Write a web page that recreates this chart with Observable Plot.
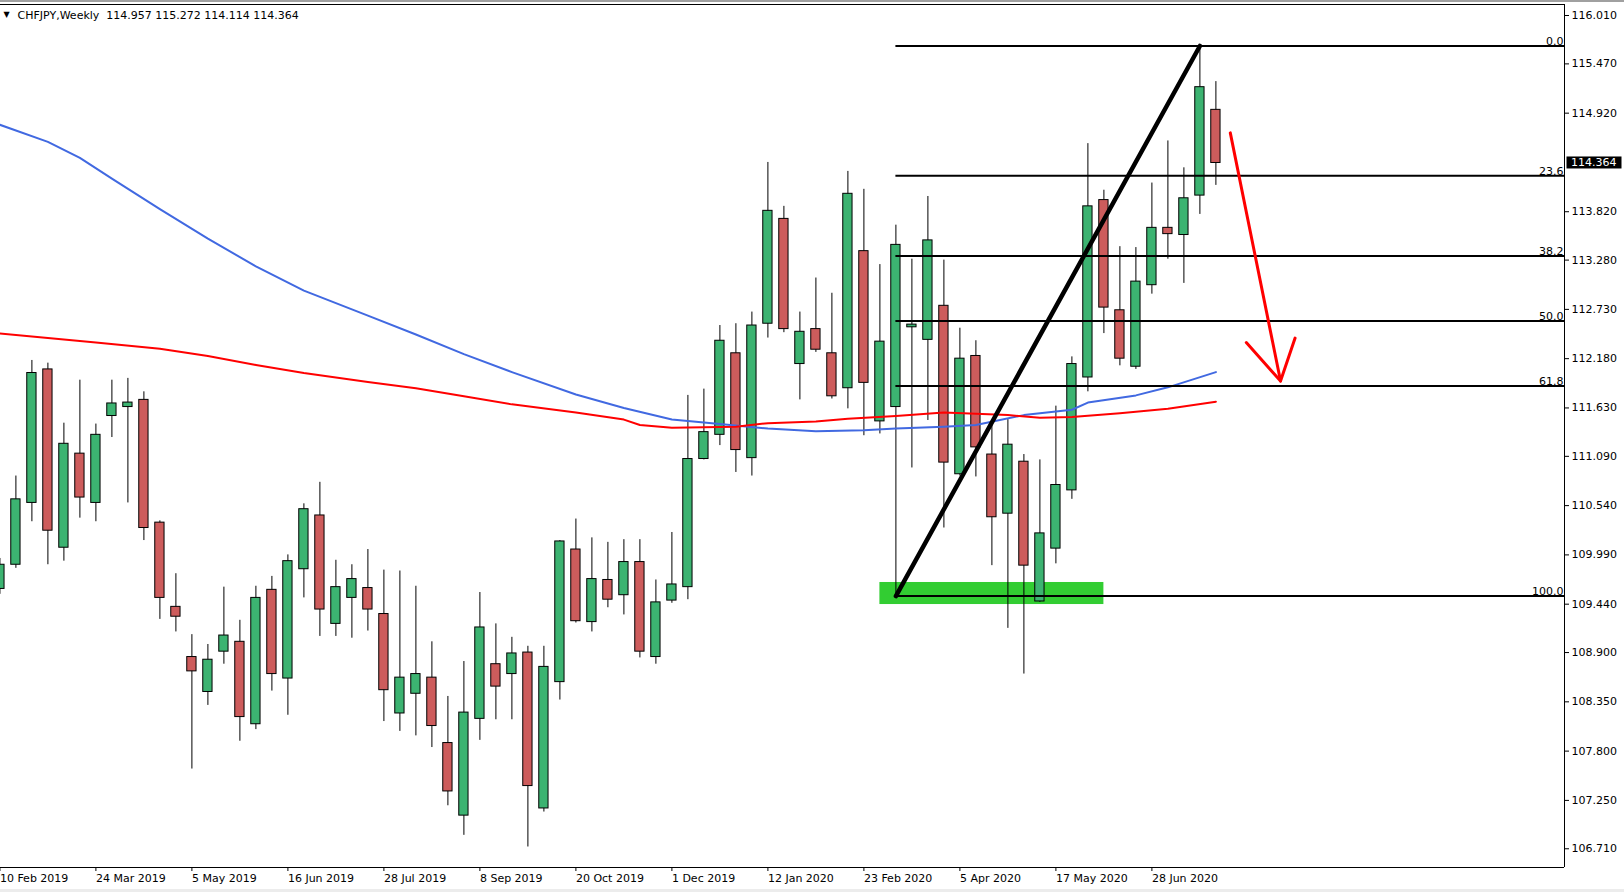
<!DOCTYPE html>
<html><head><meta charset="utf-8">
<script src="https://cdn.jsdelivr.net/npm/d3@7"></script>
<script src="https://cdn.jsdelivr.net/npm/@observablehq/plot@0.6"></script>
<style>
html,body{margin:0;padding:0;background:#fff;}
#chart svg{display:block;}
</style></head><body><div id="chart"></div>
<script>
// ---------------- data ----------------
const symbol = "CHFJPY";
const timeframe = "Weekly";
const firstWeek = "10 Feb 2019";

const open  = [109.61,109.88,110.57,112.06,110.07,111.12,110.57,111.54,111.64,111.72,
               110.35,109.41,108.85,108.46,108.91,109.02,108.10,109.60,108.61,109.83,
               110.43,109.22,109.51,109.62,109.33,108.22,108.44,108.62,107.89,107.08,
               108.16,108.77,108.66,108.90,107.16,108.57,110.05,109.24,109.71,109.54,
               109.91,108.85,109.48,109.63,111.06,111.33,112.24,111.07,112.57,113.74,
               112.12,112.51,112.24,111.85,113.38,111.48,111.64,112.53,112.39,112.77,
               110.89,112.21,111.11,110.45,111.03,109.47,110.06,110.71,111.97,113.95,
               112.72,112.09,113.00,113.64,113.56,114.00,114.957];
const high  = [109.95,110.87,112.16,112.13,111.46,111.94,111.45,111.94,111.96,111.81,
               110.37,109.78,109.10,108.99,109.63,109.26,109.64,109.75,109.99,110.56,
               110.80,109.93,109.88,110.05,109.82,109.81,109.64,109.02,108.41,108.80,
               109.57,109.22,109.07,108.97,108.97,110.15,110.39,110.18,110.13,110.16,
               110.16,109.71,110.24,111.77,111.84,112.55,112.57,112.70,114.37,113.88,
               112.70,113.08,112.91,114.27,114.07,113.23,113.67,113.29,113.99,113.28,
               112.52,112.38,111.48,111.50,111.11,111.05,111.65,112.20,114.58,114.06,
               113.43,113.42,114.14,114.61,114.31,115.67,115.272];
const low   = [109.55,109.84,110.36,109.88,109.92,110.40,110.36,111.30,110.57,110.15,
               109.27,109.13,107.60,108.31,108.77,107.91,108.04,108.47,108.20,109.51,
               109.08,109.08,109.06,109.14,108.13,108.02,107.97,107.84,107.19,106.86,
               107.92,108.15,108.15,106.73,107.12,108.37,109.23,109.13,109.40,109.32,
               108.84,108.77,109.45,109.49,111.05,111.21,110.91,110.87,112.41,112.47,
               111.72,112.25,111.73,111.62,111.32,111.34,109.53,110.96,111.49,110.29,
               110.87,110.86,109.87,109.17,108.66,109.46,109.89,110.61,111.81,112.46,
               112.10,112.06,112.90,113.29,113.02,113.79,114.114];
const close = [109.88,110.61,112.02,110.26,111.23,110.63,111.33,111.68,111.69,110.29,
               109.51,109.30,108.69,108.82,109.09,108.18,109.51,108.66,109.92,110.50,
               109.38,109.63,109.72,109.38,108.48,108.62,108.66,108.08,107.35,108.23,
               109.18,108.52,108.89,107.41,108.74,110.14,109.25,109.72,109.49,109.91,
               108.91,109.46,109.66,111.06,111.36,112.38,111.16,112.55,113.83,112.51,
               112.48,112.28,111.76,114.02,111.91,112.37,113.45,112.56,113.50,111.02,
               112.18,111.19,110.41,111.22,109.87,110.23,110.77,112.12,113.88,112.75,
               112.18,113.04,113.64,113.57,113.97,115.21,114.364];

const xTickLabels = ["10 Feb 2019","24 Mar 2019","5 May 2019","16 Jun 2019","28 Jul 2019",
  "8 Sep 2019","20 Oct 2019","1 Dec 2019","12 Jan 2020","23 Feb 2020","5 Apr 2020",
  "17 May 2020","28 Jun 2020"];
const yTickLabels = ["116.010","115.470","114.920","113.820","113.280","112.730","112.180",
  "111.630","111.090","110.540","109.990","109.440","108.900","108.350","107.800","107.250","106.710"];

// moving averages (week index, price)
const blueMaWeeks = [0,3,5,7,10,13,16,19,23,26,29,32,36,39,42,45,48,51,54,56,59,61,64,67,68,71,73,76];
const blueMa      = [114.79,114.60,114.42,114.19,113.85,113.52,113.21,112.94,112.66,112.45,112.23,112.03,
                     111.78,111.63,111.50,111.45,111.40,111.37,111.38,111.40,111.42,111.44,111.55,111.61,
                     111.69,111.77,111.86,112.03];
const redMaWeeks  = [0,3,6,10,13,16,19,23,26,29,32,36,39,40,42,46,48,51,53,56,59,63,65,67,70,73,76];
const redMa       = [112.46,112.41,112.36,112.29,112.21,112.11,112.02,111.92,111.85,111.76,111.67,111.58,
                     111.50,111.44,111.41,111.42,111.46,111.48,111.51,111.54,111.58,111.55,111.52,111.53,
                     111.57,111.62,111.70];

// Fibonacci retracement anchored on a swing low and swing high candle
const fibRatios = [0, 23.6, 38.2, 50, 61.8, 100];
const fibLowWeek = 56;
const fibHighWeek = 75;

// support zone
const zoneWeeks  = [55, 69];
const zonePrices = [109.436, 109.682];

// red projection arrow: tail, tip, left wing, right wing
const arrowWeeks  = [76.9, 80.04, 77.9, 80.95];
const arrowPrices = [114.70, 111.93, 112.36, 112.41];

// ---------------- build ----------------
const W = 1624, H = 892;
const mL = 0, mR = 60, mT = 4, mB = 25;
const pxPerWeek = 16, xOffset = -0.6;
const xMin = (0 - xOffset) / pxPerWeek;
const xMax = xMin + (W - mL - mR) / pxPerWeek;
const pxPerUnit = 89.6;
const yTopPrice = 116.01 + (15 - mT) / pxPerUnit;
const yBotPrice = yTopPrice - (H - mB - mT) / pxPerUnit;

const parse = d3.utcParse("%d %b %Y");
const t0 = parse(firstWeek);
const WEEK = 7 * 864e5;
const weekOf = s => Math.round((parse(s) - t0) / WEEK);

const candles = open.map((o, i) => ({i, o, h: high[i], l: low[i], c: close[i], up: close[i] >= o}));
const xTicks = xTickLabels.map(weekOf);
const xLabelOf = new Map(xTicks.map((t, k) => [t, xTickLabels[k]]));
const yTicks = yTickLabels.map(Number);
const blue = blueMaWeeks.map((w, k) => ({w, v: blueMa[k]}));
const red = redMaWeeks.map((w, k) => ({w, v: redMa[k]}));
const fh = high[fibHighWeek], fl = low[fibLowWeek];
const fibs = fibRatios.map(r => ({r, p: fh - r / 100 * (fh - fl)}));
const trend = [{w: fibLowWeek, p: fl}, {w: fibHighWeek, p: fh}];
const zone = [{x1: zoneWeeks[0], x2: zoneWeeks[1], y1: zonePrices[0], y2: zonePrices[1]}];
const arrowPts = arrowWeeks.map((w, k) => ({w, p: arrowPrices[k]}));
const last = candles[candles.length - 1];
const f3 = v => v.toFixed(3);
const title = `${symbol},${timeframe}\u00a0\u00a0${f3(last.o)} ${f3(last.h)} ${f3(last.l)} ${f3(last.c)}`;

const GREEN = "#3cb371", RED = "#cd5c5c";

const chart = Plot.plot({
  width: W, height: H,
  marginLeft: mL, marginRight: mR, marginTop: mT, marginBottom: mB,
  x: {type: "linear", domain: [xMin, xMax], label: null},
  y: {domain: [yBotPrice, yTopPrice], label: null},
  style: {background: "#fff", color: "#000", fontFamily: "DejaVu Sans", fontSize: "11px", overflow: "visible"},
  marks: [
    Plot.rect(zone, {x1: "x1", x2: "x2", y1: "y1", y2: "y2", fill: "#32cd32"}),
    Plot.ruleX(candles, {x: "i", y1: "l", y2: "h", stroke: "#000", strokeWidth: 1, clip: true}),
    Plot.rect(candles, {
      x1: d => d.i - 0.29, x2: d => d.i + 0.29,
      y1: d => Math.min(d.o, d.c), y2: d => Math.max(d.o, d.c),
      fill: d => d.up ? GREEN : RED, stroke: "#000", strokeWidth: 1, clip: true
    }),
    Plot.line(blue, {x: "w", y: "v", stroke: "#4169e1", strokeWidth: 2, clip: true}),
    Plot.line(red, {x: "w", y: "v", stroke: "#ff0000", strokeWidth: 2, clip: true}),
    Plot.ruleY(fibs, {y: "p", x1: () => fibLowWeek, x2: () => xMax, stroke: "#000", strokeWidth: 2}),
    Plot.text(fibs, {x: () => xMax, y: "p", text: d => d.r.toFixed(1), textAnchor: "end",
      lineAnchor: "bottom", dx: -1, dy: -1, fill: "#000", fontSize: 11}),
    Plot.line(trend, {x: "w", y: "p", stroke: "#000", strokeWidth: 4.5}),
    Plot.line([arrowPts[0], arrowPts[1]], {x: "w", y: "p", stroke: "#ff0000", strokeWidth: 3}),
    Plot.line([arrowPts[2], arrowPts[1], arrowPts[3]], {x: "w", y: "p", stroke: "#ff0000", strokeWidth: 3}),
    Plot.ruleY([yTopPrice], {stroke: "#000", strokeWidth: 1}),
    Plot.ruleY([yBotPrice], {stroke: "#000", strokeWidth: 1}),
    Plot.ruleX([xMax], {stroke: "#000", strokeWidth: 1}),
    Plot.axisY({ticks: yTicks, anchor: "right", tickSize: 4, tickPadding: 3,
      tickFormat: d => d.toFixed(3), fontSize: 11, fill: "#000", stroke: "#000"}),
    Plot.axisX({ticks: xTicks, anchor: "bottom", tickSize: 4, tickPadding: 3,
      tickFormat: t => xLabelOf.get(t), textAnchor: "start", fontSize: 11, fill: "#000", stroke: "#000"}),
    Plot.text([title], {frameAnchor: "top-left", dx: 17, dy: 11, lineAnchor: "middle",
      textAnchor: "start", fill: "#000", fontSize: 11}),
    Plot.text(["\u25BC"], {frameAnchor: "top-left", dx: 3, dy: 10, lineAnchor: "middle",
      textAnchor: "start", fill: "#000", fontSize: 8})
  ]
});

document.getElementById("chart").appendChild(chart);

// current price tag on the price axis
const svg = d3.select(chart);
const py = chart.scale("y").apply(last.c);
const tag = svg.append("g").attr("text-anchor", "start");
tag.append("rect").attr("x", W - mR + 2.5).attr("y", py - 6).attr("width", 55).attr("height", 12).attr("fill", "#000");
tag.append("text").attr("x", W - mR + 7).attr("y", py).attr("dy", "0.35em").attr("text-anchor", "start")
  .attr("fill", "#fff").attr("font-size", 11).attr("font-family", "DejaVu Sans").text(f3(last.c));
// window edges
svg.append("rect").attr("x", 0).attr("y", 0).attr("width", W).attr("height", 2).attr("fill", "#a0a0a0");
svg.append("rect").attr("x", 0).attr("y", H - 3).attr("width", W).attr("height", 3).attr("fill", "#ececec");
</script>
</body></html>
